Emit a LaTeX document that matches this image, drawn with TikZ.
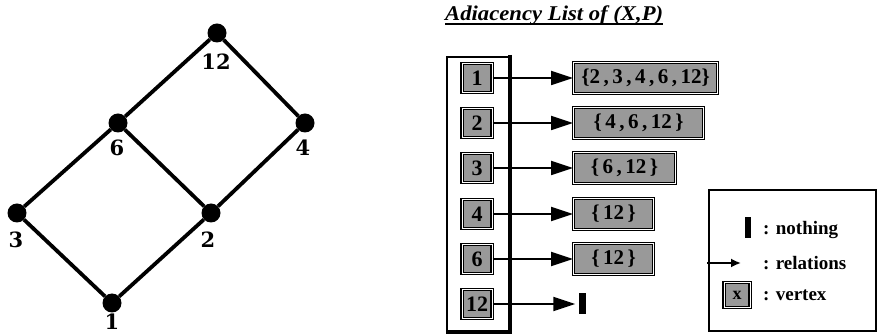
\documentclass[tikz,border=0pt]{standalone}
\usepackage{fontspec}
\setmainfont{Liberation Serif}
\newfontfamily\dvs{DejaVu Serif}
\usetikzlibrary{arrows.meta}
\begin{document}
\begin{tikzpicture}[x=1pt,y=-1pt,
  gnode/.style={circle,fill=black,minimum size=19pt,inner sep=0pt},
  gedge/.style={line width=3.8pt},
  glabel/.style={font=\dvs\bfseries\fontsize{21}{21}\selectfont,inner sep=0pt},
  vbox/.style={rectangle,draw=black,line width=1.2pt,double=white,double distance=0.9pt,
    fill=black!40,minimum width=30pt,minimum height=29pt,inner sep=0pt,
    font=\bfseries\fontsize{22}{22}\selectfont},
  lbox/.style={rectangle,draw=black,line width=1.2pt,double=white,double distance=0.9pt,
    fill=black!40,minimum height=31pt,inner sep=0pt,anchor=west,
    font=\bfseries\fontsize{21}{21}\selectfont},
  rel/.style={line width=1.8pt,-{Triangle[length=22pt,width=14pt]}},
  nothingbar/.style={rectangle,fill=black,inner sep=0pt},
  legtext/.style={anchor=west,inner sep=0pt,font=\bfseries\fontsize{19}{19}\selectfont}
]
\useasboundingbox (0,0) rectangle (878,336);

% ---- lattice graph ----
\node[gnode] (n12) at (217,33) {};
\node[gnode] (n6)  at (118,123) {};
\node[gnode] (n4)  at (305,123) {};
\node[gnode] (n3)  at (17,213) {};
\node[gnode] (n2)  at (211,213) {};
\node[gnode] (n1)  at (112,303) {};
\draw[gedge] (n1) -- (n3);
\draw[gedge] (n1) -- (n2);
\draw[gedge] (n3) -- (n6);
\draw[gedge] (n2) -- (n6);
\draw[gedge] (n2) -- (n4);
\draw[gedge] (n6) -- (n12);
\draw[gedge] (n4) -- (n12);
\node[glabel] (t12) at (216,62) {12};
\node[glabel] (t6)  at (117,148) {6};
\node[glabel] (t4)  at (303,148) {4};
\node[glabel] (t3)  at (16,240) {3};
\node[glabel] (t2)  at (208,240) {2};
\node[glabel] (t1)  at (112,322) {1};

% ---- title ----
\node[anchor=base west,inner sep=0pt,xscale=1.08,transform shape,
  font=\bfseries\itshape\fontsize{21}{21}\selectfont] (title) at (445,21) {Adiacency List of (X,P)};
\draw[line width=1.6pt] ([yshift=-3pt]title.base west) -- ([yshift=-3pt]title.base east);

% ---- list container ----
\draw[line width=1.6pt] (510,57) -- (447,57) -- (447,332);
\draw[line width=4.5pt] (510,55) -- (510,332) -- (446,332);

% vertex boxes
\node[vbox] (v1)  at (477,78)  {1};
\node[vbox] (v2)  at (477,123) {2};
\node[vbox] (v3)  at (477,168) {3};
\node[vbox] (v4)  at (477,214) {4};
\node[vbox] (v6)  at (477,259) {6};
\node[vbox] (v12) at (477,304) {12};

% list boxes
\node[lbox,minimum width=144pt] (l1) at (573,78)  {\{2\,,\,3\,,\,4\,,\,6\,,\,12\}};
\node[lbox,minimum width=130pt] (l2) at (573,123) {\{\,4\,,\,6\,,\,12\,\}};
\node[lbox,minimum width=102pt] (l3) at (573,168) {\{\,6\,,\,12\,\}};
\node[lbox,minimum width=80pt]  (l4) at (573,214) {\{\,12\,\}};
\node[lbox,minimum width=80pt]  (l6) at (573,259) {\{\,12\,\}};
\node[nothingbar,minimum width=7pt,minimum height=21pt] (e12) at (582,304) {};

\draw[rel] (v1.east) -- (l1.west);
\draw[rel] (v2.east) -- (l2.west);
\draw[rel] (v3.east) -- (l3.west);
\draw[rel] (v4.east) -- (l4.west);
\draw[rel] (v6.east) -- (l6.west);
\draw[rel,shorten >=3pt] (v12.east) -- (e12.west);

% ---- legend ----
\draw[line width=2pt] (709,190) rectangle (876,331);
\node[nothingbar,minimum width=6pt,minimum height=21pt] (lgbar) at (748,228) {};
\node[legtext] (lgt1) at (763,230) {: nothing};
\coordinate (lga) at (707,263);
\coordinate (lgb) at (741,263);
\draw[line width=1.8pt,-{Latex[length=10pt,width=9pt]}] (lga) -- (lgb);
\node[legtext] (lgt2) at (763,263) {: relations};
\node[vbox,minimum width=26pt,minimum height=25pt,font=\bfseries\fontsize{18}{18}\selectfont] (lgv) at (737,295) {x};
\node[legtext] (lgt3) at (763,295) {: vertex};
\end{tikzpicture}
\end{document}
